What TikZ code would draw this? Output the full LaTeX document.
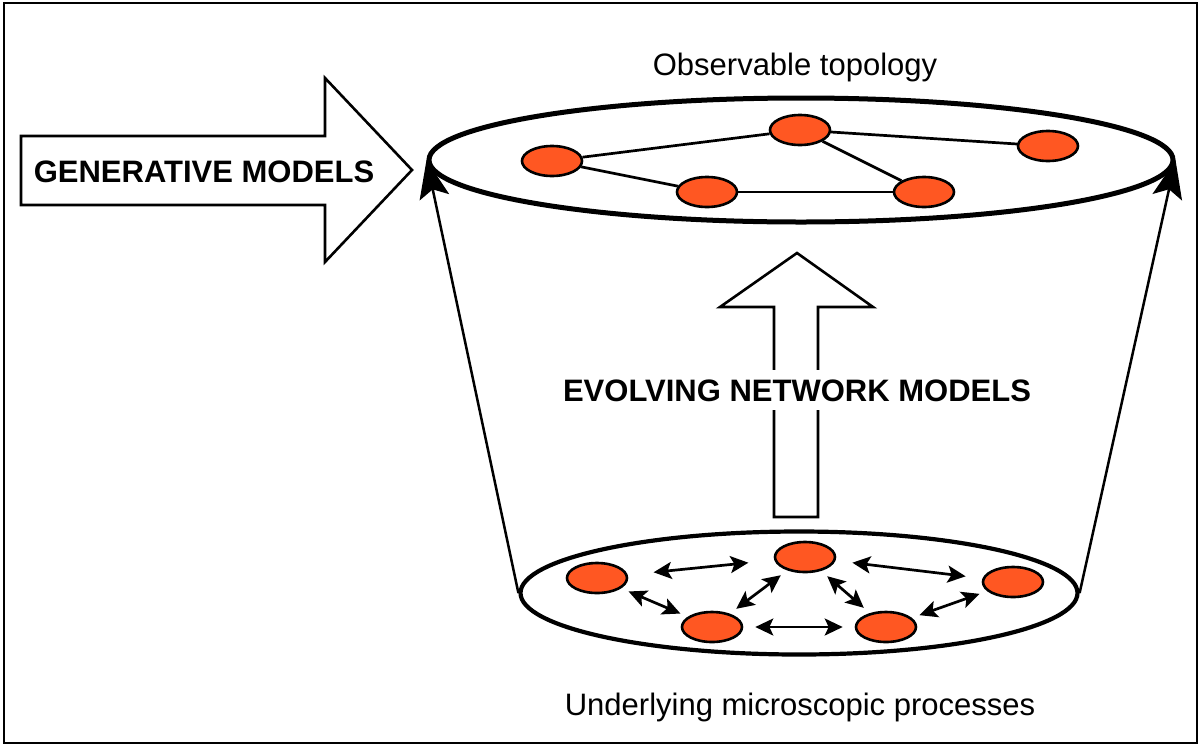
\documentclass[tikz,border=0pt]{standalone}
\usepackage{fontspec}
\setmainfont{Liberation Sans}
\usetikzlibrary{arrows.meta,shapes.geometric}
\definecolor{nodeorange}{RGB}{255,87,34}
\begin{document}
\begin{tikzpicture}[x=1pt,y=-1pt,line join=miter,font=\fontsize{31}{37}\selectfont]
  \tikzstyle{vertex}=[ellipse,draw,line width=2.6pt,fill=nodeorange,minimum width=60pt,minimum height=30pt,inner sep=0pt]
  \tikzstyle{plate}=[ellipse,draw,inner sep=0pt]
  \tikzstyle{dbl}=[line width=2.7pt,{Stealth[length=18pt,width=17pt,inset=4pt]}-{Stealth[length=18pt,width=17pt,inset=4pt]},shorten <=8pt,shorten >=8pt]
  \tikzstyle{rise}=[line width=2.5pt,-{Stealth[length=38pt,width=30pt,inset=8pt]}]
  \useasboundingbox (0,0) rectangle (1198,745);
  \draw[line width=2pt] (4,3) rectangle (1196.5,742.5);
  % block arrows
  \draw[line width=2.6pt,fill=white] (21,136) -- (325,136) -- (325,78) -- (412,170)
        -- (325,262) -- (325,205) -- (21,205) -- cycle;
  \draw[line width=2.6pt,fill=white] (774,517) -- (774,307) -- (720,307) -- (797,253)
        -- (873,307) -- (818,307) -- (818,517) -- cycle;
  % plates
  \node[plate,line width=5pt,minimum width=744pt,minimum height=124pt] (top) at (801,160) {};
  \node[plate,line width=4.2pt,minimum width=557pt,minimum height=123pt] (bot) at (799,593) {};
  \draw[rise] (bot.west) -- (top.west);
  \draw[rise] (bot.east) -- (top.east);
  % observable network
  \node[vertex] (T_1) at (552,161) {};
  \node[vertex] (T_2) at (800,130) {};
  \node[vertex] (T_3) at (1048,146) {};
  \node[vertex] (T_4) at (707,192) {};
  \node[vertex] (T_5) at (924,192) {};
  \path[line width=2.7pt] (T_1) edge (T_2)
        (T_2) edge (T_3)
        (T_2) edge (T_5)
        (T_1) edge (T_4)
        (T_4) edge (T_5);
  % microscopic processes
  \node[vertex] (B_1) at (597,578) {};
  \node[vertex] (B_2) at (805,557) {};
  \node[vertex] (B_3) at (1013,582) {};
  \node[vertex] (B_4) at (712,627) {};
  \node[vertex] (B_5) at (886,627) {};
  \draw[dbl] (B_1) edge[shorten <=26pt,shorten >=26pt] (B_2)
        (B_1) edge (B_4)
        (B_4) edge (B_2)
        (B_4) edge[shorten <=12pt,shorten >=12pt] (B_5)
        (B_2) edge (B_5)
        (B_2) edge[shorten <=17pt,shorten >=17pt] (B_3)
        (B_5) edge (B_3);
  % labels
  \node[anchor=base] (obs) at (795,75) {Observable topology};
  \node[anchor=base] (micro) at (800,715) {Underlying microscopic processes};
  \node[anchor=base,fill=white,inner sep=9pt,font=\fontsize{31}{37}\selectfont\bfseries] (evo) at (797,401) {EVOLVING NETWORK MODELS};
  \node[anchor=base,font=\fontsize{31}{37}\selectfont\bfseries] (gen) at (204,182) {GENERATIVE MODELS};
\end{tikzpicture}
\end{document}
